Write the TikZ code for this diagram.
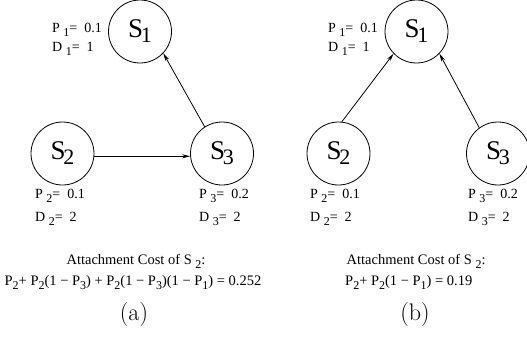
\documentclass[tikz,border=0pt]{standalone}
\usepackage{fontspec}
\setmainfont{Liberation Serif}
\newfontfamily\lmfont{Latin Modern Roman}
\usetikzlibrary{arrows.meta}
\newcommand{\sbx}[1]{\raisebox{-4pt}{\fontsize{12}{12}\selectfont #1}}
\newcommand{\bigS}[1]{S\kern-2.5pt\raisebox{-5pt}{\fontsize{22}{22}\selectfont #1}}
\tikzset{
  stnode/.style={circle, draw, line width=0.8pt, minimum size=63pt, inner sep=0pt,
    font=\fontsize{27}{27}\selectfont},
  lbl/.style={anchor=base west, inner sep=0pt, font=\fontsize{14}{16}\selectfont},
  ttl/.style={anchor=base, inner sep=0pt, font=\fontsize{14.5}{16}\selectfont},
  ttll/.style={anchor=base west, inner sep=0pt, font=\fontsize{14.5}{16}\selectfont},
  captxt/.style={anchor=base, inner sep=0pt, font=\lmfont\fontsize{24}{24}\selectfont},
  conn/.style={line width=0.8pt, -{Stealth[length=8pt,width=4pt,inset=2.5pt]}}
}
\begin{document}
\begin{tikzpicture}[x=1pt,y=-1pt]
\useasboundingbox (0,0) rectangle (527,337);
\clip (0,0) rectangle (527,337);
% panel (a)
\node[stnode] (a1) at (140,31.5) {\bigS{1}};
\node[stnode] (a2) at (62.5,153.5) {\bigS{2}};
\node[stnode] (a3) at (222,153.5) {\bigS{3}};
\draw[conn] (a2.-5) -- (a3.185);
\draw[conn] (a3.123) -- (a1.-43);
\node[lbl] (ap1) at (52,33) {P \sbx{1}= \ 0.1};
\node[lbl] (ad1) at (52,52) {D \sbx{1}= \ 1};
\node[lbl] (ap2) at (35,198) {P \sbx{2}= \ 0.1};
\node[lbl] (ad2) at (35,221) {D \sbx{2}= \ 2};
\node[lbl] (ap3) at (199,198) {P \sbx{3}= \ 0.2};
\node[lbl] (ad3) at (199,221) {D \sbx{3}= \ 2};
\node[ttl] (at) at (136,264) {Attachment Cost of S \sbx{2}:};
\node[ttl] (af) at (133,285) {P\sbx{2}+ P\sbx{2}(1 − P\sbx{3}) + P\sbx{2}(1 − P\sbx{3})(1 − P\sbx{1}) = 0.252};
\node[captxt] (ac) at (134,320) {(a)};
% panel (b)
\node[stnode] (b1) at (416.5,31.5) {\bigS{1}};
\node[stnode] (b2) at (338.5,153.5) {\bigS{2}};
\node[stnode] (b3) at (498,153.5) {\bigS{3}};
\draw[conn] (b2.84) -- (b1.224);
\draw[conn] (b3.126) -- (b1.-44);
\node[lbl] (bp1) at (328,33) {P \sbx{1}= \ 0.1};
\node[lbl] (bd1) at (328,52) {D \sbx{1}= \ 1};
\node[lbl] (bp2) at (310,198) {P \sbx{2}= \ 0.1};
\node[lbl] (bd2) at (310,221) {D \sbx{2}= \ 2};
\node[lbl] (bp3) at (468,198) {P \sbx{3}= \ 0.2};
\node[lbl] (bd3) at (468,221) {D \sbx{3}= \ 2};
\node[ttll] (bt) at (346.5,264) {Attachment Cost of S \sbx{2}:};
\node[ttll] (bf) at (345,285) {P\sbx{2}+ P\sbx{2}(1 − P\sbx{1}) = 0.19};
\node[captxt] (bc) at (415,320) {(b)};
\end{tikzpicture}
\end{document}
